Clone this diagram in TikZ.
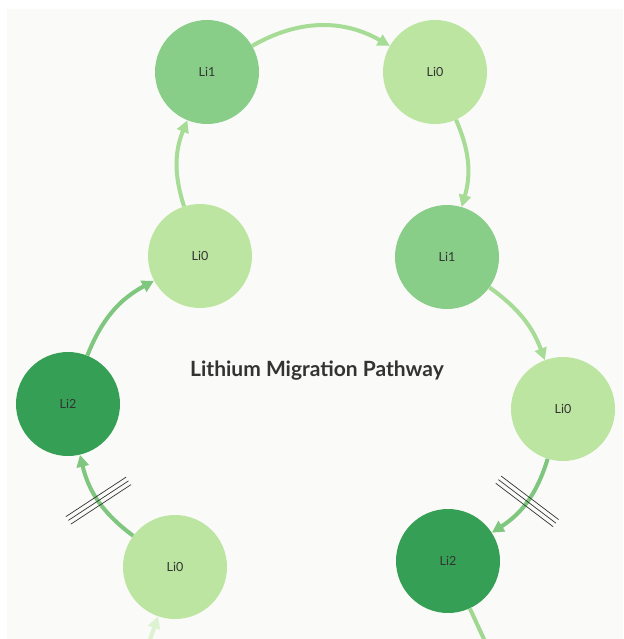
\documentclass[tikz,border=0pt]{standalone}
\usepackage{fontspec}
\setmainfont{Lato}
\usepackage{tikz}
\usetikzlibrary{arrows.meta,decorations.markings}
\definecolor{PageBg}{HTML}{FAFAF8}
\definecolor{LiZero}{HTML}{BBE5A0}
\definecolor{LiOne}{HTML}{88CE88}
\definecolor{LiTwo}{HTML}{35A055}
\definecolor{InkGray}{HTML}{333333}
\begin{document}
\begin{tikzpicture}[x=1pt,y=1pt,
  site/.style={circle,minimum size=104pt,inner sep=0pt,text=InkGray,font=\fontsize{12.5}{14}\selectfont},
  hop/.style={line width=4pt,-{Triangle[length=12pt,width=12pt]}},
  broken/.style={postaction={decorate},decoration={markings,mark=at position 0.5 with {
      \foreach \s in {-4.5,0,4.5}{\draw[-,line width=0.7pt,InkGray] (\s pt,-36pt) -- (\s pt,36pt);}}}}]
\useasboundingbox (0,0) rectangle (623,-639);
\fill[PageBg] (7,-9) rectangle (623,-639);
\node[site,fill=LiOne] (a) at (207,-72) {Li1};
\node[site,fill=LiZero] (b) at (435,-72) {Li0};
\node[site,fill=LiOne] (c) at (447,-257) {Li1};
\node[site,fill=LiZero] (d) at (563,-409) {Li0};
\node[site,fill=LiTwo] (e) at (448,-561) {Li2};
\node[site,fill=LiZero] (f) at (175,-567) {Li0};
\node[site,fill=LiTwo] (g) at (68,-404) {Li2};
\node[site,fill=LiZero] (h) at (200,-256) {Li0};
\node[text=InkGray,font=\bfseries\fontsize{21}{24}\selectfont] (t) at (317,-371) {Lithium Migration Pathway};
\coordinate (eout) at (489,-650);
\coordinate (fin) at (143,-660);
\draw[hop,LiZero!60!LiOne] (a) to[bend left=30] (b);
\draw[hop,LiZero!60!LiOne] (b) to[bend left=20] (c);
\draw[hop,LiZero!60!LiOne] (c) to[bend left=17] (d);
\draw[hop,broken,LiZero!55!LiTwo] (d) to[bend left=20] (e);
\draw[hop,-,LiZero!80!LiTwo] (e) -- (eout);
\draw[hop,LiZero!50!white] (fin) -- (f);
\draw[hop,broken,LiZero!55!LiTwo] (f) to[bend left=20] (g);
\draw[hop,LiZero!55!LiTwo] (g) to[bend left=20] (h);
\draw[hop,LiZero!60!LiOne] (h) to[bend left=20] (a);
\end{tikzpicture}
\end{document}
